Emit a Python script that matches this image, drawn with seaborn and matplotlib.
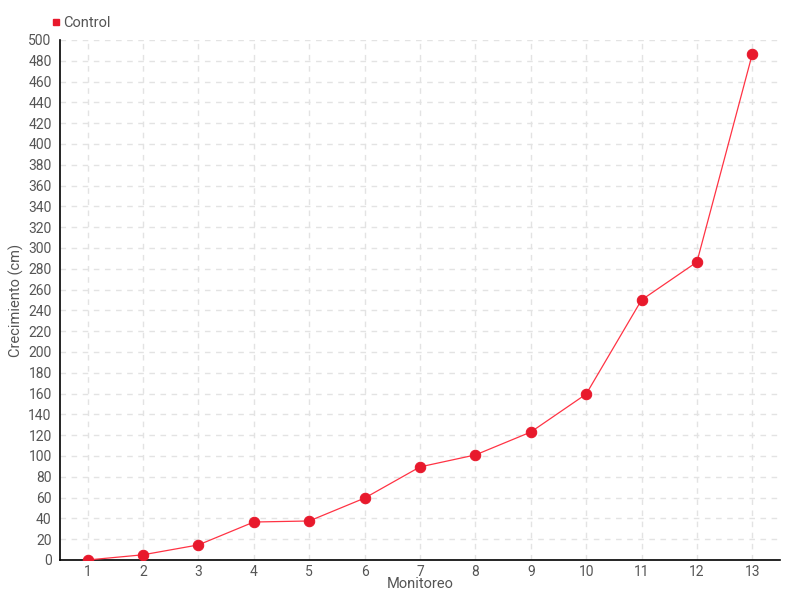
import matplotlib
matplotlib.use("Agg")
import matplotlib.pyplot as plt
import seaborn as sns
import pandas as pd
from matplotlib.lines import Line2D

monitoreo = [1, 2, 3, 4, 5, 6, 7, 8, 9, 10, 11, 12, 13]
control = [0, 5, 14.5, 36.5, 37.5, 59.5, 89.5, 101, 123, 159.5, 250, 286.5, 486.5]
y_ticks = list(range(0, 501, 20))

df = pd.DataFrame({"Monitoreo": monitoreo, "Control": control})

sns.set_style("white")
plt.rcParams['font.family'] = ['Roboto', 'DejaVu Sans']

fig = plt.figure(figsize=(8, 6), dpi=100)
ax = fig.add_axes([0.075, 0.0667, 0.9, 0.8667])

sns.lineplot(data=df, x="Monitoreo", y="Control", ax=ax, color="#ff3344",
             linewidth=0.9, marker="o", markersize=7.5,
             markerfacecolor="#e8192c", markeredgecolor="#e8192c", zorder=3)

ax.set_xlim(0.5, 13.5)
ax.set_ylim(0, 500)
ax.set_xticks(monitoreo)
ax.set_xticklabels([str(m) for m in monitoreo])
ax.set_yticks(y_ticks)
ax.set_yticklabels([str(t) for t in y_ticks])

ax.grid(True, linestyle=(0, (4, 4)), color="#e3e3e3", linewidth=1)
for s in ["top", "right"]:
    ax.spines[s].set_visible(False)
for s in ["left", "bottom"]:
    ax.spines[s].set_color("black")
    ax.spines[s].set_linewidth(1.2)

ax.tick_params(axis="y", direction="out", length=4, width=1, color="black",
               labelsize=10, labelcolor="#555555", pad=2)
ax.tick_params(axis="x", direction="inout", length=7, width=1, color="black",
               labelsize=10, labelcolor="#555555", pad=0)

ax.set_xlabel("Monitoreo", fontsize=10.5, color="#555555")
ax.set_ylabel("Crecimiento (cm)", fontsize=10.5, color="#555555")
ax.xaxis.set_label_coords(0.5, -0.047, transform=ax.transAxes)
ax.yaxis.set_label_coords(-0.06, 0.5, transform=ax.transAxes)
ax.xaxis.label.set_va("center")
ax.yaxis.label.set_va("center")

handle = Line2D([], [], marker="s", linestyle="none", markersize=5,
                markerfacecolor="#e8192c", markeredgecolor="#e8192c")
fig.legend([handle], ["Control"], loc="upper left", bbox_to_anchor=(0.052, 0.985),
           frameon=False, fontsize=10.5, handletextpad=0.0, borderpad=0,
           handlelength=1.0, labelcolor="#555555")

fig.savefig("out.png", dpi=100)
